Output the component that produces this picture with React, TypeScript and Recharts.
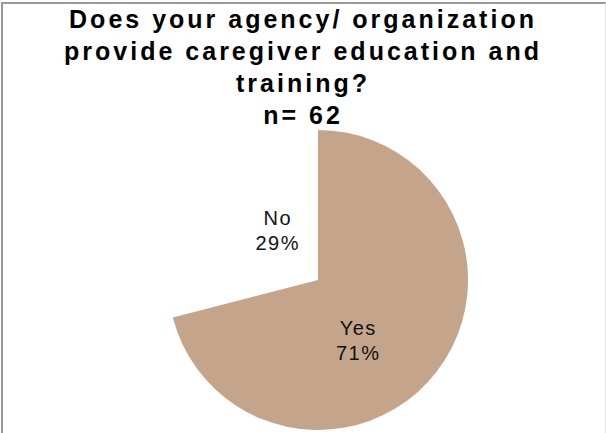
import { PieChart, Pie, Cell } from "recharts";

// survey answers, n = 62
const CATEGORIES = ["Yes", "No"];
const COUNTS = [44, 18];
const TITLE_LINES = [
  "Does your agency/ organization",
  "provide caregiver education and",
  "training?",
  "n= 62",
];

const COLORS = ["#C4A58B", "transparent"];
const RADIAN = Math.PI / 180;

const data = CATEGORIES.map((name, i) => ({ name, value: COUNTS[i] }));

function SliceLabel(props: any) {
  const { cx, cy, midAngle, percent, name } = props;
  // Excel-style inside labels, nudged a little clockwise of the slice middle
  const angle = midAngle - 16;
  const r = 68;
  const x = cx + r * Math.cos(-angle * RADIAN);
  const y = cy + r * Math.sin(-angle * RADIAN);
  return (
    <text
      x={x}
      y={y}
      textAnchor="middle"
      fill="#111"
      fontSize={20}
      fontFamily="'Liberation Sans', Arial, sans-serif"
      letterSpacing={1.5}
    >
      <tspan x={x} y={y}>
        {name}
      </tspan>
      <tspan x={x} y={y + 25}>
        {Math.round(percent * 100)}%
      </tspan>
    </text>
  );
}

export default function App() {
  return (
    <div
      style={{
        position: "fixed",
        left: 0,
        top: 0,
        width: 606,
        height: 433,
        background: "#fff",
        overflow: "hidden",
      }}
    >
      <div
        style={{
          position: "absolute",
          left: 1,
          top: 2,
          width: 602,
          height: 460,
          borderLeft: "2px solid #999",
          borderTop: "2px solid #999",
          borderRight: "1px solid #e2e2e2",
        }}
      />
      <div
        style={{
          position: "absolute",
          left: 0,
          top: 3,
          width: 606,
          textAlign: "center",
          fontFamily: "'Liberation Sans', Arial, sans-serif",
          fontWeight: "bold",
          fontSize: 25,
          lineHeight: "32px",
          letterSpacing: 3,
          color: "#000",
        }}
      >
        {TITLE_LINES.map((t) => (
          <div key={t}>{t}</div>
        ))}
      </div>
      <PieChart
        width={606}
        height={433}
        margin={{ top: 0, right: 0, bottom: 0, left: 0 }}
        style={{ position: "absolute", left: 0, top: 0 }}
      >
        <Pie
          data={data}
          dataKey="value"
          nameKey="name"
          cx={318}
          cy={280}
          outerRadius={150}
          startAngle={90}
          endAngle={-270}
          stroke="none"
          labelLine={false}
          label={SliceLabel}
          isAnimationActive={false}
        >
          {data.map((_, i) => (
            <Cell key={i} fill={COLORS[i]} />
          ))}
        </Pie>
      </PieChart>
    </div>
  );
}
